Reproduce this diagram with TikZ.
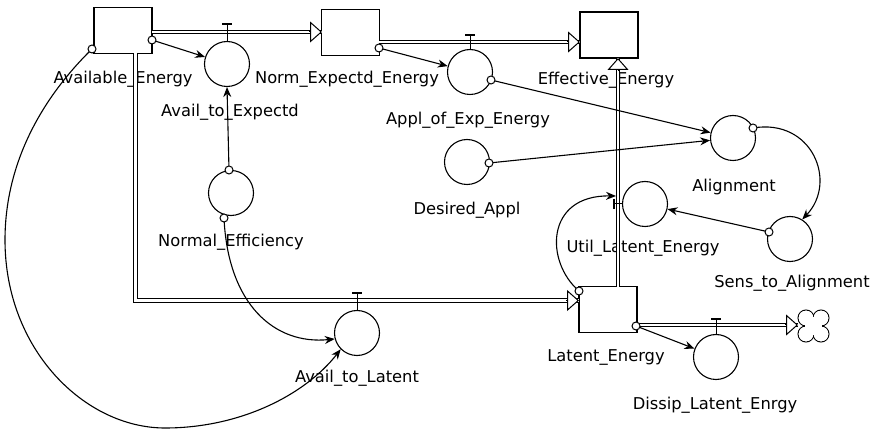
\documentclass[tikz,border=0pt]{standalone}
\usepackage{fontspec}
\setmainfont{DejaVu Sans}
\usetikzlibrary{arrows.meta,calc}
\begin{document}
\begin{tikzpicture}[x=1pt,y=-1pt,
  stock/.style={draw, line width=1.1pt, minimum width=58pt, minimum height=46pt, inner sep=0pt},
  conv/.style={draw, circle, line width=1.1pt, minimum size=45pt, inner sep=0pt},
  lbl/.style={font=\fontsize{16.3}{19}\selectfont, inner sep=0pt},
  pipe/.style={line width=1pt, double=white, double distance=2.6pt},
  pipehead/.style={line width=1pt, -{Triangle[fill=white,length=12pt,width=21pt]}},
  link/.style={line width=1.1pt, -{Stealth[length=10pt,width=8pt]}},
  dot/.style={draw, circle, fill=white, line width=1pt, minimum size=8pt, inner sep=0pt},
  tbar/.style={line width=1.8pt}]
\useasboundingbox (0,0) rectangle (876,430);

% stocks
\node[stock] (AE) at (123,30.5) {};
\node[stock] (NE) at (350.5,32.5) {};
\node[stock] (EE) at (609,35) {};
\node[stock] (LE) at (608,309.5) {};

% valves and converters
\node[conv] (AtE) at (227,64) {};
\node[conv] (AoE) at (470,72) {};
\node[conv] (AtL) at (357,333) {};
\node[conv] (DLE) at (716,357) {};
\node[conv] (NEf) at (231,193) {};
\node[conv] (DA) at (467,162) {};
\node[conv] (Al) at (733,138) {};
\node[conv] (StA) at (790,239) {};
\node[conv] (ULE) at (645,204) {};

% labels
\node[lbl] (lAE) at (123,79) {Available\_Energy};
\node[lbl] (lAtE) at (230,112) {Avail\_to\_Expectd};
\node[lbl] (lNE) at (347,79) {Norm\_Expectd\_Energy};
\node[lbl] (lAoE) at (468,120) {Appl\_of\_Exp\_Energy};
\node[lbl] (lEE) at (606,80) {Effective\_Energy};
\node[lbl] (lDA) at (467,210) {Desired\_Appl};
\node[lbl] (lAl) at (734,187) {Alignment};
\node[lbl] (lULE) at (643,248) {Util\_Latent\_Energy};
\node[lbl] (lStA) at (792,283) {Sens\_to\_Alignment};
\node[lbl] (lNEf) at (231,242) {Normal\_Efficiency};
\node[lbl] (lAtL) at (357,378) {Avail\_to\_Latent};
\node[lbl] (lLE) at (606,357) {Latent\_Energy};
\node[lbl] (lDLE) at (715,405) {Dissip\_Latent\_Enrgy};

% pipe end points
\coordinate (p1a) at (152,32);   \coordinate (p1b) at (322,32);
\coordinate (p2a) at (379,42);   \coordinate (p2b) at (580,42);
\coordinate (p3a) at (618,287);  \coordinate (p3b) at (618,58);
\coordinate (p4a) at (135.5,53); \coordinate (p4c) at (135.5,300.5); \coordinate (p4b) at (579,300.5);
\coordinate (p5a) at (637,325);  \coordinate (p5b) at (798,325);

% flow pipes
\draw[pipe] (p1a) -- (p1b);
\draw[pipe] (p2a) -- (p2b);
\draw[pipe] (p3a) -- (p3b);
\draw[pipe] (p4a) -- (p4c) -- (p4b);
\draw[pipe] (p5a) -- (p5b);
\draw[pipehead] ($(p1b)+(-13,0)$) -- (p1b);
\draw[pipehead] ($(p2b)+(-13,0)$) -- (p2b);
\draw[pipehead] ($(p3b)+(0,13)$) -- (p3b);
\draw[pipehead] ($(p4b)+(-13,0)$) -- (p4b);
\draw[pipehead] ($(p5b)+(-13,0)$) -- (p5b);

% valve stems and T-bars
\foreach \v/\ty in {AtE/24, AoE/35, AtL/293, DLE/319}{
  \draw[line width=1pt] (\v.north) -- (\v.north |- 0,\ty);
  \draw[tbar] ($(\v.north |- 0,\ty)+(-5,0)$) -- ($(\v.north |- 0,\ty)+(5,0)$);
}
\draw[line width=1pt] (ULE.west) -- (614,204);
\draw[tbar] (614,199) -- (614,209);

% cloud (sink)
\foreach \c in {(806,318),(821,318),(806,334),(821,334)}
  \draw[line width=1pt] \c circle (8);
\foreach \c in {(806,318),(821,318),(806,334),(821,334)}
  \fill[white] \c circle (7.3);
\fill[white] (805,317) rectangle (822,335);

% connector origins
\coordinate (o1) at (152,40);
\coordinate (o2) at (379,48);
\coordinate (o3) at (491,80);
\coordinate (o4) at (489,163);
\coordinate (o5) at (753,128);
\coordinate (o6) at (769,232);
\coordinate (o7) at (229,170);
\coordinate (o8) at (224,218);
\coordinate (o9) at (92,49);
\coordinate (o10) at (579,291);
\coordinate (o11) at (636,326);
\coordinate (e10) at (616,196);

% connectors
\draw[link] (o1) -- (AtE);
\draw[link] (o2) -- (AoE);
\draw[link] (o3) -- (Al);
\draw[link] (o4) -- (Al);
\draw[link] (o5) .. controls (812,118) and (838,182) .. (StA.58);
\draw[link] (o6) -- (ULE);
\draw[link] (o7) -- (AtE.south);
\draw[link] (o8) .. controls (228,305) and (275,345) .. (AtL.195);
\draw[link] (o9) .. controls (40,100) and (5,165) .. (5,240)
   .. controls (5,350) and (85,428) .. (165,428)
   .. controls (240,428) and (305,395) .. (AtL.225);
\draw[link] (o10) .. controls (545,262) and (545,195) .. (e10);
\draw[link] (o11) -- (DLE);

\foreach \o in {o1,o2,o3,o4,o5,o6,o7,o8,o9,o10,o11}
  \node[dot] (d\o) at (\o) {};
\end{tikzpicture}
\end{document}
